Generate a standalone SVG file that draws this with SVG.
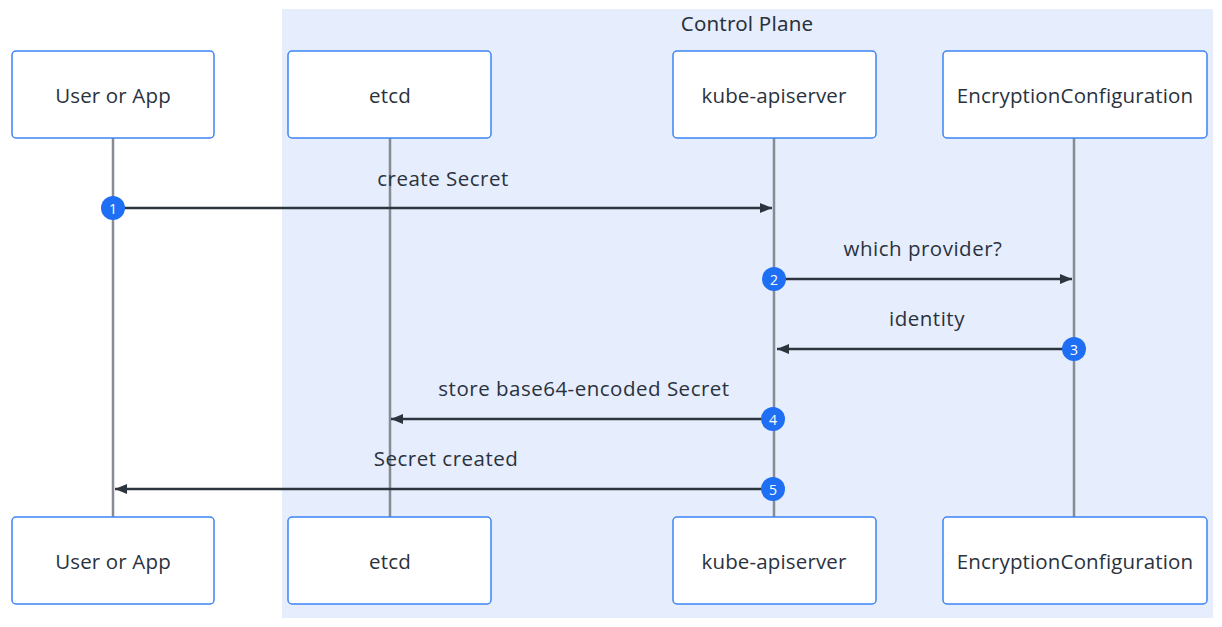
<svg xmlns="http://www.w3.org/2000/svg" width="1222" height="627" viewBox="0 0 1222 627">
<style>
.box{fill:#fff;stroke:#3d84f5;stroke-width:1.5}
.lbl{font-family:"Open Sans",sans-serif;font-size:20.5px;letter-spacing:0.15px;fill:#2a323d;text-anchor:middle;dominant-baseline:central}
.msg{font-family:"Open Sans",sans-serif;font-size:20.5px;letter-spacing:0.5px;fill:#2a323d;text-anchor:middle}
.life{stroke:#878c94;stroke-width:2.5;fill:none}
.arr{stroke:#2c343d;stroke-width:2.5;fill:none;marker-end:url(#ah)}
.num circle{fill:#1f6ff5}
.num text{font-family:"Open Sans",sans-serif;font-size:14px;fill:#fff;text-anchor:middle;dominant-baseline:central}
</style>
<defs>
<marker id="ah" viewBox="0 0 12 10" refX="12" refY="5" markerWidth="12" markerHeight="10" markerUnits="userSpaceOnUse" orient="auto">
<path d="M0,0 L12,5 L0,10 Z" fill="#2c343d"/>
</marker>
</defs>
<rect width="1222" height="627" fill="#fff"/>
<g id="control-plane">
<rect x="282" y="9" width="931" height="609" fill="#e6edfd"/>
<text x="747" y="23" font-family="'Noto Sans',sans-serif" font-size="20.5" letter-spacing="0.2" fill="#2a323d" text-anchor="middle" dominant-baseline="central">Control Plane</text>
</g>
<g id="lifelines">
<line class="life" x1="113" y1="138" x2="113" y2="517"/>
<line class="life" x1="390" y1="138" x2="390" y2="517"/>
<line class="life" x1="774" y1="138" x2="774" y2="517"/>
<line class="life" x1="1074" y1="138" x2="1074" y2="517"/>
</g>
<g id="user-top"><rect class="box" x="12" y="51" width="202" height="87" rx="4"/><text class="lbl" x="113" y="95">User or App</text></g>
<g id="etcd-top"><rect class="box" x="288" y="51" width="203" height="87" rx="4"/><text class="lbl" x="390" y="95">etcd</text></g>
<g id="api-top"><rect class="box" x="673" y="51" width="203" height="87" rx="4"/><text class="lbl" x="774" y="95">kube-apiserver</text></g>
<g id="enc-top"><rect class="box" x="943" y="51" width="264" height="87" rx="4"/><text class="lbl" x="1075" y="95">EncryptionConfiguration</text></g>
<g id="user-bottom"><rect class="box" x="12" y="517" width="202" height="87" rx="4"/><text class="lbl" x="113" y="561">User or App</text></g>
<g id="etcd-bottom"><rect class="box" x="288" y="517" width="203" height="87" rx="4"/><text class="lbl" x="390" y="561">etcd</text></g>
<g id="api-bottom"><rect class="box" x="673" y="517" width="203" height="87" rx="4"/><text class="lbl" x="774" y="561">kube-apiserver</text></g>
<g id="enc-bottom"><rect class="box" x="943" y="517" width="264" height="87" rx="4"/><text class="lbl" x="1075" y="561">EncryptionConfiguration</text></g>
<g id="connectors">
<text class="msg" x="443" y="186">create Secret</text>
<line class="arr" x1="113" y1="208" x2="772" y2="208"/>
<text class="msg" x="923" y="256">which provider?</text>
<line class="arr" x1="774" y1="279" x2="1072" y2="279"/>
<text class="msg" x="927" y="326">identity</text>
<line class="arr" x1="1074" y1="349" x2="777" y2="349"/>
<text class="msg" x="584" y="396">store base64-encoded Secret</text>
<line class="arr" x1="774" y1="419" x2="391" y2="419"/>
<text class="msg" x="446" y="466">Secret created</text>
<line class="arr" x1="774" y1="489" x2="115" y2="489"/>
<g class="num"><circle cx="113" cy="208" r="12"/><text x="113" y="208">1</text></g>
<g class="num"><circle cx="774" cy="279" r="12"/><text x="774" y="279">2</text></g>
<g class="num"><circle cx="1074" cy="349" r="12"/><text x="1074" y="349">3</text></g>
<g class="num"><circle cx="773" cy="419" r="12"/><text x="773" y="419">4</text></g>
<g class="num"><circle cx="773" cy="489" r="12"/><text x="773" y="489">5</text></g>
</g>
</svg>
